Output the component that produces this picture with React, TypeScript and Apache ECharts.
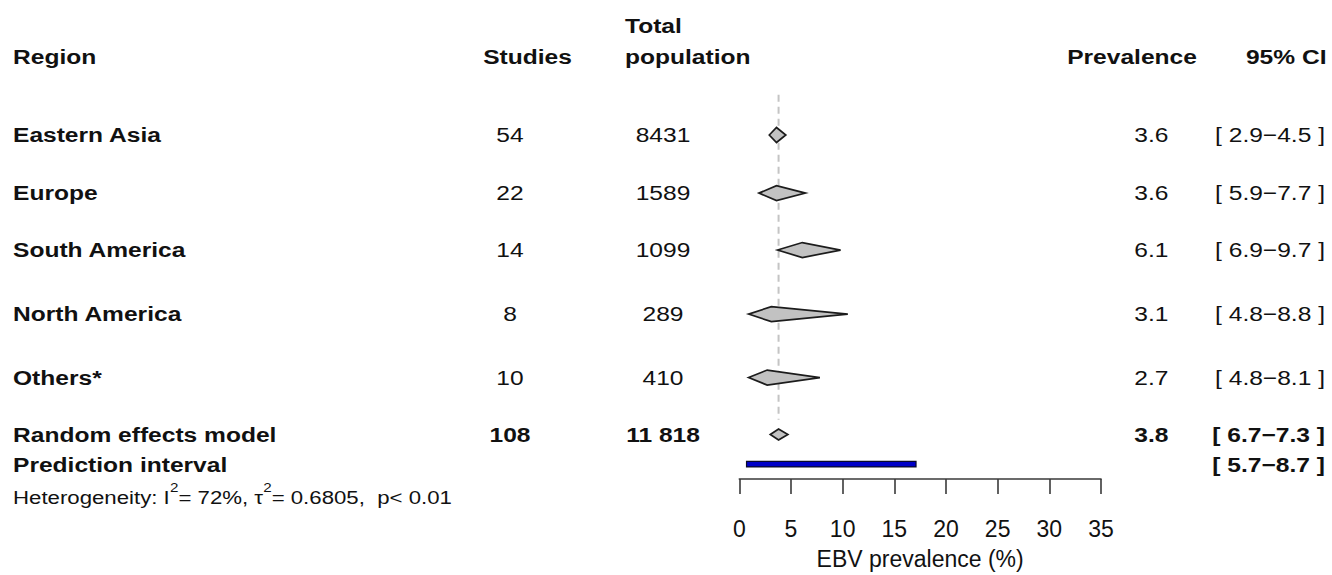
import { useEffect, useRef } from 'react';
import * as echarts from 'echarts';

// Subgroup rows
const regions = ['Eastern Asia', 'Europe', 'South America', 'North America', 'Others*'];
const studies = ['54', '22', '14', '8', '10'];
const population = ['8431', '1589', '1099', '289', '410'];
const prevalence = [3.6, 3.6, 6.1, 3.1, 2.7];
const lowerBound = [2.9, 1.9, 3.7, 0.9, 0.9];
const upperBound = [4.5, 6.4, 9.8, 10.5, 7.8];
const ciLabels = ['[ 2.9−4.5 ]', '[ 5.9−7.7 ]', '[ 6.9−9.7 ]', '[ 4.8−8.8 ]', '[ 4.8−8.1 ]'];
const rowPos = [0, 0.98, 1.94, 3.02, 4.09];

// Pooled estimate
const pooledLabel = 'Random effects model';
const pooledStudies = '108';
const pooledPopulation = '11 818';
const pooledEstimate = 3.8;
const pooledLower = 3.0;
const pooledUpper = 4.7;
const pooledCI = '[ 6.7−7.3 ]';
const pooledRow = 5.05;

// Prediction interval
const predictionLabel = 'Prediction interval';
const predictionLower = 0.7;
const predictionUpper = 17.1;
const predictionCI = '[ 5.7−8.7 ]';
const predictionRow = 5.55;

// Reference line extent (row units)
const refLineRows = [-0.68, 4.8];

// Axis
const xMin = 0;
const xMax = 35;
const xStep = 5;

const FONT = '"Liberation Sans", Arial, Helvetica, sans-serif';
const SX = 1.17;
const INK = '#111';

type TableRow = {
  label: string;
  studies: string;
  population: string;
  prevalence: string;
  ci: string;
  row: number;
  bold: boolean;
};

const tableRows: TableRow[] = [
  ...regions.map((r, i) => ({
    label: r,
    studies: studies[i],
    population: population[i],
    prevalence: prevalence[i].toFixed(1),
    ci: ciLabels[i],
    row: rowPos[i],
    bold: false,
  })),
  {
    label: pooledLabel,
    studies: pooledStudies,
    population: pooledPopulation,
    prevalence: pooledEstimate.toFixed(1),
    ci: pooledCI,
    row: pooledRow,
    bold: true,
  },
  {
    label: predictionLabel,
    studies: '',
    population: '',
    prevalence: '',
    ci: predictionCI,
    row: predictionRow,
    bold: true,
  },
];

const txt = (
  text: string,
  x: number,
  y: number,
  align: 'left' | 'center' | 'right',
  bold: boolean,
  size = 21
) => ({
  type: 'text',
  x,
  y,
  scaleX: SX,
  silent: true,
  style: {
    text,
    fontSize: size,
    fontWeight: bold ? 'bold' : 'normal',
    fontFamily: FONT,
    fill: INK,
    align,
    verticalAlign: 'middle',
  },
});

export default function App() {
  const ref = useRef<HTMLDivElement>(null);

  useEffect(() => {
    document.body.style.margin = '0';
    const chart = echarts.init(ref.current!, null, { renderer: 'svg' });

    const diamondData = [
      ...prevalence.map((p, i) => [p, lowerBound[i], upperBound[i], rowPos[i], 7.5]),
      [pooledEstimate, pooledLower, pooledUpper, pooledRow, 5.5],
    ];

    const option: any = {
      animation: false,
      backgroundColor: '#ffffff',
      grid: { left: 739.3, right: 231, top: 4.5, bottom: 83.5, containLabel: false },
      xAxis: {
        type: 'value',
        min: xMin,
        max: xMax,
        interval: xStep,
        position: 'bottom',
        splitLine: { show: false },
        axisLine: { show: true, onZero: false, lineStyle: { color: '#3a3a3a', width: 1.6 } },
        axisTick: { show: true, length: 15, lineStyle: { color: '#3a3a3a', width: 1.6 } },
        axisLabel: { margin: 38, fontSize: 23, fontFamily: FONT, color: INK },
        name: 'EBV prevalence (%)',
        nameLocation: 'middle',
        nameGap: 68,
        nameTextStyle: { fontSize: 23, fontFamily: FONT, color: INK },
      },
      yAxis: {
        type: 'value',
        inverse: true,
        min: -2.2,
        max: 5.8,
        show: false,
      },
      series: [
        {
          type: 'line',
          data: refLineRows.map((r) => [pooledEstimate, r]),
          symbol: 'none',
          silent: true,
          lineStyle: { color: '#c4c4c4', width: 2, type: [7, 5] },
          z: 1,
        },
        {
          type: 'custom',
          clip: false,
          silent: true,
          data: diamondData,
          encode: { x: [0, 1, 2], y: 3 },
          z: 3,
          renderItem: (_params: any, api: any) => {
            const row = api.value(3);
            const half = api.value(4);
            const [xe, y] = api.coord([api.value(0), row]);
            const xl = api.coord([api.value(1), row])[0];
            const xu = api.coord([api.value(2), row])[0];
            return {
              type: 'polygon',
              shape: {
                points: [
                  [xl, y],
                  [xe, y - half],
                  [xu, y],
                  [xe, y + half],
                ],
              },
              style: { fill: '#c2c2c2', stroke: '#1c1c1c', lineWidth: 1.7 },
            };
          },
        },
        {
          type: 'custom',
          clip: false,
          silent: true,
          data: [[predictionLower, predictionUpper, predictionRow]],
          encode: { x: [0, 1], y: 2 },
          z: 3,
          renderItem: (_params: any, api: any) => {
            const row = api.value(2);
            const [x0, y] = api.coord([api.value(0), row]);
            const x1 = api.coord([api.value(1), row])[0];
            return {
              type: 'rect',
              shape: { x: x0, y: y - 2.75, width: x1 - x0, height: 5.5 },
              style: { fill: '#0000c8', stroke: '#0a0a2a', lineWidth: 1.2 },
            };
          },
        },
        {
          type: 'custom',
          clip: false,
          silent: true,
          data: tableRows.map((r) => [0, r.row]),
          encode: { x: 0, y: 1 },
          z: 4,
          renderItem: (params: any, api: any) => {
            const r = tableRows[params.dataIndex];
            const y = api.coord([0, api.value(1)])[1];
            const children: any[] = [txt(r.label, 13, y, 'left', true)];
            if (r.studies) children.push(txt(r.studies, 510, y, 'center', r.bold));
            if (r.population) children.push(txt(r.population, 663, y, 'center', r.bold));
            if (r.prevalence) children.push(txt(r.prevalence, 1168.5, y, 'right', r.bold));
            if (r.ci) children.push(txt(r.ci, 1325, y, 'right', r.bold));
            return { type: 'group', children };
          },
        },
      ],
      graphic: [
        txt('Region', 13, 56.5, 'left', true),
        txt('Studies', 527.5, 57, 'center', true),
        txt('Total', 625, 25.5, 'left', true),
        txt('population', 625, 56.5, 'left', true),
        txt('Prevalence', 1132, 57, 'center', true),
        txt('95% CI', 1326.5, 57, 'right', true),
        {
          type: 'text',
          x: 13,
          y: 494,
          scaleX: SX,
          silent: true,
          style: {
            text: '{n|Heterogeneity: I}{s|2}{n|= 72%, τ}{s|2}{n|= 0.6805,  p< 0.01}',
            fontFamily: FONT,
            fill: INK,
            align: 'left',
            verticalAlign: 'middle',
            rich: {
              n: { fontSize: 19, fontFamily: FONT, fill: INK, lineHeight: 26, verticalAlign: 'bottom' },
              s: { fontSize: 13, fontFamily: FONT, fill: INK, lineHeight: 26, verticalAlign: 'top' },
            },
          },
        },
      ],
    };

    chart.setOption(option);
    return () => chart.dispose();
  }, []);

  return (
    <div
      ref={ref}
      style={{ position: 'absolute', left: 0, top: 0, width: 1332, height: 575, background: '#fff' }}
    />
  );
}
